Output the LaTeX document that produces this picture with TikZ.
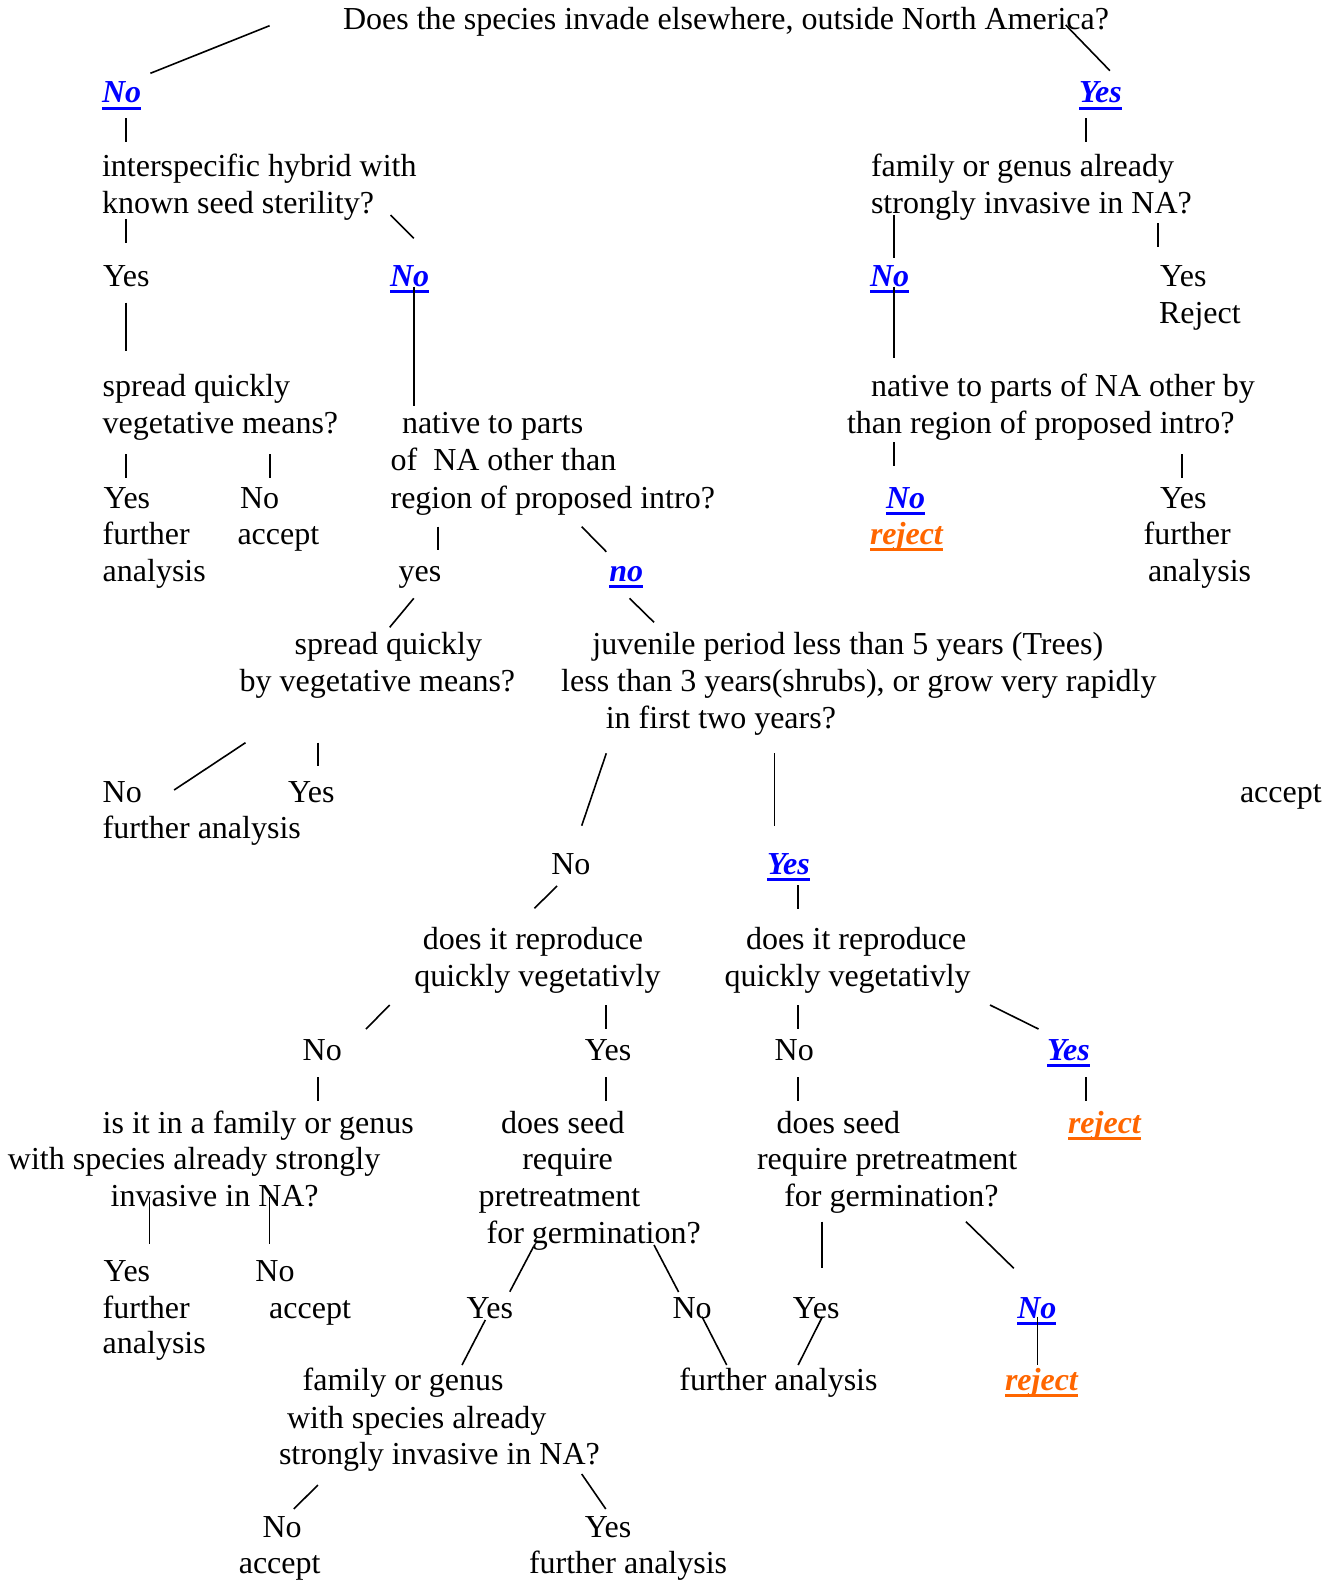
\documentclass[tikz,border=0pt]{standalone}
\usepackage{fontspec}
\setmainfont{Liberation Serif}
\definecolor{linkblue}{HTML}{0000FF}
\definecolor{rejorange}{HTML}{FF6600}
\newcommand\ulx[1]{{\setbox0\hbox{#1}\rlap{\rule[-6.8pt]{\wd0}{3.2pt}}\box0}}
\newcommand\seg[3]{\coordinate (#1a) at (#2); \coordinate (#1b) at (#3); \draw[conn] (#1a) -- (#1b);}
\tikzset{
  t/.style={anchor=base west, inner sep=0pt, outer sep=0pt, yshift=-1.3pt, font=\fontsize{32pt}{37pt}\selectfont},
  bl/.style={t, text=linkblue, font=\fontsize{32pt}{37pt}\selectfont\bfseries\itshape},
  orj/.style={t, text=rejorange, font=\fontsize{32pt}{37pt}\selectfont\bfseries\itshape},
  conn/.style={draw=black, line width=1.6pt}
}
\begin{document}
\begin{tikzpicture}[x=1pt,y=-1pt]
\useasboundingbox (0,0) rectangle (1329,1581);
% top
\node[t] (q0) at (343,28.5) {Does the species invade elsewhere, outside North America?};
\node[bl] (n1) at (102,101.7) {\ulx{No}};
\node[bl] (y1) at (1079,101.7) {\ulx{Yes}};
\node[t] (q1a) at (102,175.7) {interspecific hybrid with};
\node[t] (q1b) at (102,211.7) {known seed sterility?};
\node[t] (q2a) at (871,175.7) {family or genus already};
\node[t] (q2b) at (871,211.7) {strongly invasive in NA?};
\node[t] (a1) at (103,285) {Yes};
\node[bl] (n2) at (390,285) {\ulx{No}};
\node[bl] (n3) at (870,285) {\ulx{No}};
\node[t] (a2) at (1160,285) {Yes};
\node[t] (a2b) at (1159,322) {Reject};
\node[t] (q3a) at (102.7,395) {spread quickly};
\node[t] (q3b) at (102.7,432) {vegetative means?};
\node[t] (q4a) at (402,432) {native to parts};
\node[t] (q4b) at (390.6,469) {of~~NA other than};
\node[t] (q4c) at (390.6,506.7) {region of proposed intro?};
\node[t] (q5a) at (871,395) {native to parts of NA other by};
\node[t] (q5b) at (847,432) {than region of proposed intro?};
\node[t] (a3) at (103.6,506.7) {Yes};
\node[t] (a3b) at (102.7,543.3) {further};
\node[t] (a3c) at (102.7,580) {analysis};
\node[t] (a4) at (240,506.7) {No};
\node[t] (a4b) at (237.5,543.3) {accept};
\node[bl] (n4) at (886,506.7) {\ulx{No}};
\node[orj] (r1) at (870,543.3) {\ulx{reject}};
\node[t] (a5) at (1160,506.7) {Yes};
\node[t] (a5b) at (1143.7,543.3) {further};
\node[t] (a5c) at (1148,580) {analysis};
\node[t] (a6) at (398.7,580) {yes};
\node[bl] (n5) at (609.4,580) {\ulx{no}};
\node[t] (q6a) at (294.6,653.3) {spread quickly};
\node[t] (q6b) at (239.7,690) {by vegetative means?};
\node[t] (q7a) at (592.4,653.3) {juvenile period less than 5 years (Trees)};
\node[t] (q7b) at (561.2,690) {less than 3 years(shrubs), or grow very rapidly};
\node[t] (q7c) at (605.8,726.7) {in first two years?};
\node[t] (a7) at (102.7,800.7) {No};
\node[t] (a7b) at (102.7,837.3) {further analysis};
\node[t] (a8) at (288,800.7) {Yes};
\node[t] (a9) at (1240,800.7) {accept};
\node[t] (a10) at (551.3,873.3) {No};
\node[bl] (y2) at (767,873.3) {\ulx{Yes}};
\node[t] (q8a) at (422.8,948.3) {does it reproduce};
\node[t] (q8b) at (414.3,985) {quickly vegetativly};
\node[t] (q9a) at (746,948.3) {does it reproduce};
\node[t] (q9b) at (724.5,985) {quickly vegetativly};
\node[t] (a11) at (302.7,1059) {No};
\node[t] (a12) at (584.8,1059) {Yes};
\node[t] (a13) at (774.7,1059) {No};
\node[bl] (y3) at (1047,1059) {\ulx{Yes}};
\node[t] (q10a) at (102.7,1131.7) {is it in a family or genus};
\node[t] (q10b) at (8,1168.3) {with species already strongly};
\node[t] (q10c) at (110.7,1205) {invasive in NA?};
\node[t] (q11a) at (501,1131.7) {does seed};
\node[t] (q11b) at (522.3,1168.3) {require};
\node[t] (q11c) at (478.6,1205) {pretreatment};
\node[t] (q11d) at (486.6,1241.7) {for germination?};
\node[t] (q12a) at (776.5,1131.7) {does seed};
\node[t] (q12b) at (757,1168.3) {require pretreatment};
\node[t] (q12c) at (784.3,1205) {for germination?};
\node[orj] (r2) at (1068,1131.7) {\ulx{reject}};
\node[t] (a14) at (103.6,1280) {Yes};
\node[t] (a14b) at (102.7,1316.7) {further};
\node[t] (a14c) at (102.7,1352.3) {analysis};
\node[t] (a15) at (255.4,1280) {No};
\node[t] (a15b) at (269.2,1316.7) {accept};
\node[t] (a16) at (466.5,1316.7) {Yes};
\node[t] (a17) at (672.5,1316.7) {No};
\node[t] (a18) at (792.9,1316.7) {Yes};
\node[bl] (n6) at (1017.3,1316.7) {\ulx{No}};
\node[t] (a19) at (679.4,1389) {further analysis};
\node[orj] (r3) at (1005,1389) {\ulx{reject}};
\node[t] (q13a) at (302.7,1389) {family or genus};
\node[t] (q13b) at (287,1426.7) {with species already};
\node[t] (q13c) at (279,1463.3) {strongly invasive in NA?};
\node[t] (a20) at (262.5,1535.7) {No};
\node[t] (a20b) at (238.8,1572.3) {accept};
\node[t] (a21) at (584.8,1535.7) {Yes};
\node[t] (a21b) at (529,1572.3) {further analysis};
% connectors
\seg{L1}{269.6,25.7}{150.4,73.3}
\seg{L2}{1065.7,25}{1109.9,70.7}
\seg{L3}{125.9,118.3}{125.9,141.7}
\seg{L4}{1086.1,118.3}{1086.1,142.3}
\seg{L5}{125.9,219.3}{125.9,242.7}
\seg{L6}{390.6,215}{413.8,238.3}
\seg{L7}{893.8,215}{893.8,257.7}
\seg{L8}{1158,223.3}{1158,247.3}
\seg{L9}{125.9,302.7}{125.9,350.7}
\seg{L10}{413.8,286.7}{413.8,406}
\seg{L11}{893.8,286.7}{893.8,358.3}
\seg{L12}{125.9,454.3}{125.9,478.3}
\seg{L13}{270,454.3}{270,478.3}
\seg{L14}{438,526.7}{438,550}
\seg{L15}{581.7,526.7}{606.3,551.7}
\seg{L16}{893.8,442.3}{893.8,465.7}
\seg{L17}{1181.8,454.3}{1181.8,478.3}
\seg{L18}{413.8,598.3}{389.7,627.3}
\seg{L19}{629.5,598.3}{654,622.3}
\seg{L20}{245.5,742.7}{174.1,790}
\seg{L21}{317.9,742.7}{317.9,766}
\seg{L22}{606.3,753.3}{581.7,825.7}
\seg{L23}{774.3,753.3}{774.3,825.7}
\seg{L24}{557.1,886}{534.4,908.3}
\seg{L25}{798.1,885}{798.1,909}
\seg{L26}{389.7,1005}{366,1029}
\seg{L27}{605.8,1005}{605.8,1029}
\seg{L28}{798.1,1005}{798.1,1029}
\seg{L29}{990,1005}{1038.5,1029}
\seg{L30}{317.9,1077.3}{317.9,1100.7}
\seg{L31}{605.8,1077.3}{605.8,1100.7}
\seg{L32}{798.1,1077.3}{798.1,1100.7}
\seg{L33}{1086.1,1077.3}{1086.1,1100.7}
\seg{L34}{149.6,1196.7}{149.6,1244}
\seg{L35}{269.6,1196.7}{269.6,1244}
\seg{L36}{533.5,1246.7}{509.8,1291.7}
\seg{L37}{654,1245}{678.6,1292}
\seg{L38}{822,1221.7}{822,1268.3}
\seg{L39}{966,1221.7}{1013.8,1268.3}
\seg{L40}{485.3,1320}{462,1365}
\seg{L41}{702,1316.7}{726.7,1365}
\seg{L42}{822.4,1316.7}{798.1,1365}
\seg{L43}{1037.6,1316.7}{1037.6,1365}
\seg{L44}{317.9,1485}{293.8,1509}
\seg{L45}{581.7,1474}{605.8,1509}
\end{tikzpicture}
\end{document}
